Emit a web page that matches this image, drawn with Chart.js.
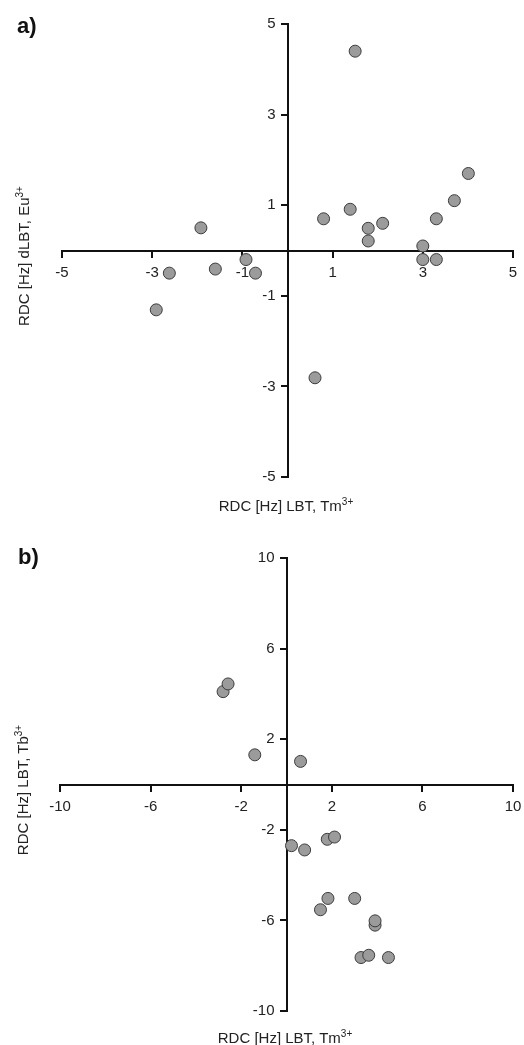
<!DOCTYPE html>
<html>
<head>
<meta charset="utf-8">
<script src="https://cdn.jsdelivr.net/npm/chart.js@4/dist/chart.umd.min.js"></script>
<style>
  html, body { margin: 0; padding: 0; background: #fff; }
  body { width: 524px; height: 1045px; position: relative; overflow: hidden;
         font-family: "Liberation Sans", Arial, sans-serif; color: #222; }
  canvas { position: absolute; left: 0; }
  #chartA { top: 0; }
  #chartB { top: 522px; }
  .panel { position: absolute; font-weight: bold; font-size: 22px; line-height: 1; color: #111; }
  .xtitle, .ytitle { position: absolute; font-size: 15px; line-height: 1; white-space: nowrap; }
  .xtitle { transform: translate(-50%, -50%); }
  .ytitle { transform: translate(-50%, -50%) rotate(-90deg); }
  sup { font-size: 10px; line-height: 0; vertical-align: 6px; }
</style>
</head>
<body>
<canvas id="chartA" width="524" height="522"></canvas>
<canvas id="chartB" width="524" height="523"></canvas>

<div class="panel" style="left:17px; top:15px;">a)</div>
<div class="ytitle" style="left:23px; top:256px;">RDC [Hz] dLBT, Eu<sup>3+</sup></div>
<div class="xtitle" style="left:286px; top:505px;">RDC [Hz] LBT, Tm<sup>3+</sup></div>

<div class="panel" style="left:18px; top:546px;">b)</div>
<div class="ytitle" style="left:22px; top:790px;">RDC [Hz] LBT, Tb<sup>3+</sup></div>
<div class="xtitle" style="left:285px; top:1037px;">RDC [Hz] LBT, Tm<sup>3+</sup></div>

<script>
// panel a) : Tm3+ vs Eu3+
const ticksA = [-5, -3, -1, 1, 3, 5];
const tmA = [1.50, 4.01, 3.70, 1.39, 0.80, 1.79, 2.11, 3.30, 1.79, 3.00,
             -1.92, 3.00, 3.30, -0.92, -2.62, -1.60, -0.71, -2.91, 0.61];
const euA = [4.40, 1.70, 1.10, 0.91, 0.70, 0.49, 0.60, 0.70, 0.21, 0.10,
             0.50, -0.20, -0.20, -0.20, -0.50, -0.41, -0.50, -1.31, -2.81];

// panel b) : Tm3+ vs Tb3+
const ticksB = [-10, -6, -2, 2, 6, 10];
const tmB = [-2.80, -2.58, -1.40, 0.62, 0.22, 0.80, 1.80, 2.12, 1.83, 3.01,
             1.50, 3.91, 3.91, 3.29, 3.63, 4.50];
const tbB = [4.10, 4.44, 1.31, 1.02, -2.70, -2.89, -2.42, -2.32, -5.03, -5.03,
             -5.53, -6.21, -6.02, -7.64, -7.54, -7.64];

function axis(dir, ticks) {
  const lim = ticks[ticks.length - 1];
  return {
    type: "linear",
    min: -lim,
    max: lim,
    // ranges are symmetric, so "center" puts each axis through zero
    position: "center",
    afterBuildTicks: s => { s.ticks = ticks.map(v => ({ value: v })); },
    afterFit: s => {
      if (dir === "x") s.height = 0; else s.width = 0;
      s.paddingLeft = s.paddingRight = s.paddingTop = s.paddingBottom = 0;
    },
    grid: { drawOnChartArea: false, drawTicks: true, tickLength: 6, color: "#111", lineWidth: 2 },
    border: { display: true, color: "#111", width: 2 },
    ticks: {
      autoSkip: false,
      maxRotation: 0,
      padding: dir === "x" ? 7 : 6,
      color: "#222",
      font: { family: '"Liberation Sans", Arial, sans-serif', size: 15 },
      callback: v => String(v)
    }
  };
}

function makeScatter(id, xs, ys, ticks, pad) {
  return new Chart(document.getElementById(id), {
    type: "scatter",
    data: {
      datasets: [{
        data: xs.map((x, i) => ({ x: x, y: ys[i] })),
        pointRadius: 6,
        pointHoverRadius: 6,
        pointBackgroundColor: "#9b9b9b",
        pointBorderColor: "#3c3c3c",
        pointBorderWidth: 1
      }]
    },
    options: {
      responsive: false,
      animation: false,
      events: [],
      layout: { padding: pad },
      plugins: { legend: { display: false }, tooltip: { enabled: false } },
      scales: {
        x: axis("x", ticks),
        y: axis("y", ticks)
      }
    }
  });
}

makeScatter("chartA", tmA, euA, ticksA, { left: 62, right: 11, top: 24, bottom: 45 });
makeScatter("chartB", tmB, tbB, ticksB, { left: 60, right: 11, top: 36, bottom: 34 });
</script>
</body>
</html>
